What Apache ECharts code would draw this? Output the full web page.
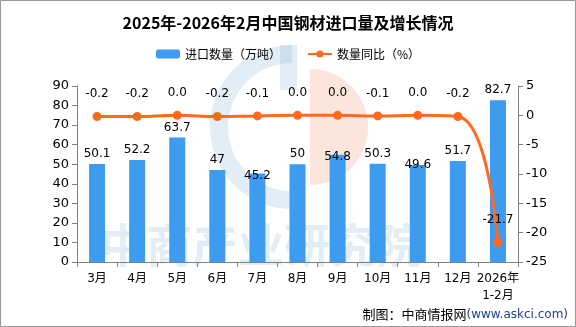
<!DOCTYPE html>
<html><head><meta charset="utf-8">
<script src="https://cdn.jsdelivr.net/npm/echarts@6/dist/echarts.min.js"></script>
<style>html,body{margin:0;padding:0;background:#fff}#c{width:576px;height:327px}</style>
</head><body><div id="c"></div>
<script>
const categories = ['3月','4月','5月','6月','7月','8月','9月','10月','11月','12月','2026年\n1-2月'];
const importVolume = [50.1, 52.2, 63.7, 47, 45.2, 50, 54.8, 50.3, 49.6, 51.7, 82.7];
const yoyChange = [-0.2, -0.2, 0.0, -0.2, -0.1, 0.0, 0.0, -0.1, 0.0, -0.2, -21.7];
const yoyLabels = ['-0.2','-0.2','0.0','-0.2','-0.1','0.0','0.0','-0.1','0.0','-0.2','-21.7'];
const leftTicks = [0, 90, 10];
const rightTicks = [-25, 5, 5];

const chart = echarts.init(document.getElementById('c'));
const font = 'DejaVu Sans, Noto Sans CJK SC, sans-serif';
const barLabelOffsets = [0,0,0,0,[0,12],0,[0,12],0,[0,10],0,0];
chart.setOption({
  animation: false,
  backgroundColor: '#fff',
  graphic: [
    {type:'rect', shape:{x:0.5,y:0.5,width:575,height:326}, style:{fill:'none',stroke:'#999',lineWidth:1}, z:-10},
    {type:'sector', shape:{cx:292,cy:127,r:82,r0:64,startAngle:Math.PI*0.5,endAngle:Math.PI*1.5}, style:{fill:'rgba(140,185,215,0.25)'}, z:-5},
    {type:'rect', shape:{x:280,y:45,width:17,height:45}, style:{fill:'rgba(140,185,215,0.25)'}, z:-5},
    {type:'sector', shape:{cx:310,cy:127,r:58,startAngle:-Math.PI*0.5,endAngle:Math.PI*0.5}, style:{fill:'rgba(245,170,140,0.3)'}, z:-5},
    {type:'text', left:100, top:222, style:{text:'中商产业研究院', fill:'rgba(140,185,215,0.25)', font:'bold 46px "Noto Sans CJK SC"'}, z:-5},
    {type:'text', right:8, bottom:6, style:{rich:{a:{fill:'#000',fontSize:13,fontFamily:'Noto Sans CJK SC'},b:{fill:'#1f3f8f',fontSize:12,fontFamily:'DejaVu Sans'}}, text:'{a|制图：中商情报网}{b|(www.askci.com)}'}}
  ],
  title: {
    text: '2025年-2026年2月中国钢材进口量及增长情况',
    left: 'center', top: 10,
    textStyle: {fontSize: 16, fontWeight: 'bold', color: '#000', fontFamily: 'Noto Sans CJK SC'}
  },
  legend: {
    top: 43, left: 'center', itemGap: 26, itemWidth: 24, itemHeight: 9,
    textStyle: {fontSize: 12, color: '#000', fontFamily: 'Noto Sans CJK SC'},
    data: ['进口数量（万吨）', '数量同比（%）']
  },
  grid: {left: 77, right: 58, top: 86, bottom: 65},
  xAxis: {
    type: 'category', data: categories,
    axisLine: {lineStyle: {color: '#808080'}},
    axisTick: {show: true, length: 5, lineStyle: {color: '#808080'}},
    axisLabel: {color: '#000', fontSize: 12, fontFamily: font, interval: 0, lineHeight: 17, margin: 8}
  },
  yAxis: [
    {type: 'value', min: leftTicks[0], max: leftTicks[1], interval: leftTicks[2],
     axisLine: {show: true, lineStyle: {color: '#808080'}},
     axisTick: {show: true, length: 5, lineStyle: {color: '#808080'}},
     splitLine: {show: false},
     axisLabel: {color: '#000', fontSize: 13, fontFamily: font, margin: 8}},
    {type: 'value', min: rightTicks[0], max: rightTicks[1], interval: rightTicks[2],
     axisLine: {show: true, lineStyle: {color: '#808080'}},
     axisTick: {show: true, length: 5, lineStyle: {color: '#808080'}},
     splitLine: {show: false},
     axisLabel: {color: '#000', fontSize: 13, fontFamily: font, margin: 8}}
  ],
  series: [
    {name: '进口数量（万吨）', type: 'bar', barWidth: 16, yAxisIndex: 0,
     itemStyle: {color: '#3d9cf0'},
     data: importVolume.map((v, i) => ({value: v, label: {offset: barLabelOffsets[i] || [0,0]}})),
     label: {show: true, position: 'top', color: '#000', fontSize: 12, fontFamily: font, distance: 4}},
    {name: '数量同比（%）', type: 'line', yAxisIndex: 1, smooth: true,
     symbol: 'circle', symbolSize: 9,
     itemStyle: {color: '#ff6a1f'}, lineStyle: {color: '#ff6a1f', width: 3},
     data: yoyChange,
     label: {show: true, position: 'top', distance: 12, color: '#000', fontSize: 12, fontFamily: font,
       formatter: p => yoyLabels[p.dataIndex]}}
  ]
});
</script></body></html>
